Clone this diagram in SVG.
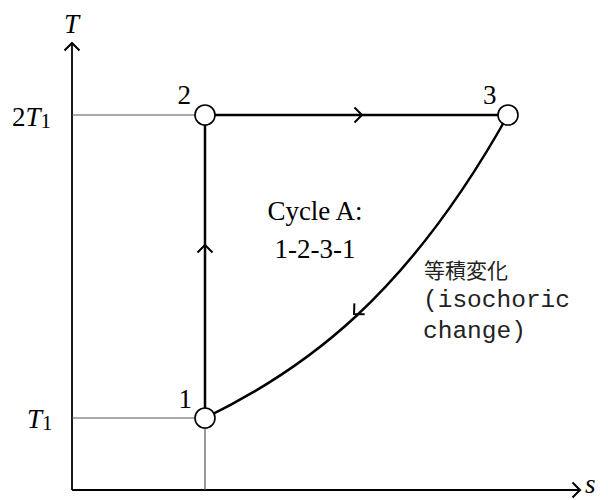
<svg xmlns="http://www.w3.org/2000/svg" width="608" height="500" viewBox="0 0 608 500">
<style>
.axis{stroke:#000;stroke-width:1.8;fill:none}
.guide{stroke:#555;stroke-width:1.2;fill:none}
.proc{stroke:#000;stroke-width:2.5;fill:none}
.chev{stroke:#000;stroke-width:2;fill:none}
.node{fill:#fff;stroke:#000;stroke-width:1.6}
.t{font-family:"Liberation Serif","Times New Roman",serif;font-size:27px;fill:#000}
.it{font-style:italic}
.sub{font-size:21px}
.jp{font-family:"Noto Sans CJK JP","Noto Sans CJK SC",sans-serif;font-size:21px;fill:#222}
.mono{font-family:"Liberation Mono","DejaVu Sans Mono",monospace;font-size:24.5px;fill:#222}
</style>
<defs>
<path id="chev" d="M-7.5,-7.5 L0,0 L-7.5,7.5"/>
</defs>
<g id="axes">
<line class="axis" x1="72" y1="490" x2="72" y2="43"/>
<line class="axis" x1="72" y1="490" x2="580" y2="490"/>
<use href="#chev" class="chev" transform="translate(72,43) rotate(-90)"/>
<use href="#chev" class="chev" transform="translate(580,490)"/>
<text class="t it" x="64" y="33">T</text>
<text class="t it" x="585" y="493">s</text>
</g>
<g id="guides">
<line class="guide" x1="72" y1="115" x2="196" y2="115"/>
<line class="guide" x1="72" y1="418" x2="196" y2="418"/>
<line class="guide" x1="205" y1="428" x2="205" y2="490"/>
<text class="t" x="12" y="126">2<tspan class="it">T</tspan><tspan class="sub" dy="2">1</tspan></text>
<text class="t" x="27" y="428"><tspan class="it">T</tspan><tspan class="sub" dy="2">1</tspan></text>
</g>
<g id="connectors">
<line class="proc" x1="205" y1="418" x2="205" y2="115"/>
<line class="proc" x1="205" y1="115" x2="508" y2="115"/>
<path class="proc" d="M205,418 C306,368.8 407,295.5 508,115"/>
<use href="#chev" class="chev" transform="translate(362,115)"/>
<use href="#chev" class="chev" transform="translate(205,245) rotate(-90)"/>
<use href="#chev" class="chev" transform="translate(354,314) rotate(137)"/>
</g>
<g id="node1">
<circle class="node" cx="205" cy="418" r="10"/>
<text class="t" x="192" y="408" text-anchor="end">1</text>
</g>
<g id="node2">
<circle class="node" cx="205" cy="115" r="10"/>
<text class="t" x="191" y="104" text-anchor="end">2</text>
</g>
<g id="node3">
<circle class="node" cx="508" cy="115" r="10"/>
<text class="t" x="483" y="104">3</text>
</g>
<g id="labels">
<text class="t" x="315" y="220" text-anchor="middle">Cycle A:</text>
<text class="t" x="315" y="258" text-anchor="middle">1-2-3-1</text>
<text class="jp" x="424" y="278">等積変化</text>
<text class="mono" x="423" y="307">(isochoric</text>
<text class="mono" x="423" y="338">change)</text>
</g>
</svg>
